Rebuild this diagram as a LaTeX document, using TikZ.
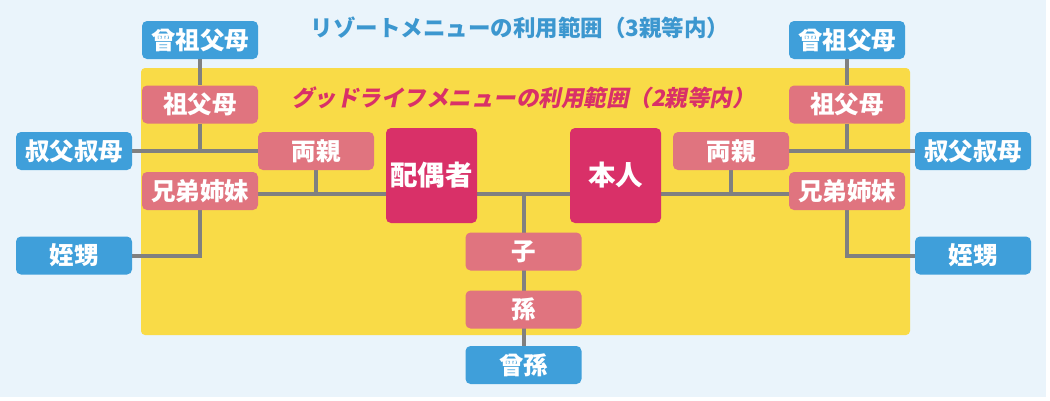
\documentclass[tikz,border=0pt]{standalone}
\usepackage{fontspec}
\setmainfont{Noto Sans CJK JP}
\newfontfamily\jpslant{Noto Sans CJK JP}[FakeSlant=0.2]
\usetikzlibrary{backgrounds}
\definecolor{pagebg}{HTML}{EAF4FB}
\definecolor{rangeyellow}{HTML}{F9DB47}
\definecolor{farblue}{HTML}{3F9FDA}
\definecolor{nearpink}{HTML}{E0747F}
\definecolor{corered}{HTML}{D93068}
\definecolor{linkgray}{HTML}{808080}

\begin{document}
\begin{tikzpicture}[x=1pt,y=-1pt,
 box/.style={rounded corners=5pt,text=white,inner sep=0pt,
  minimum width=116pt,minimum height=38pt,
  font=\bfseries\fontsize{24.5}{28}\selectfont},
 far/.style={box,fill=farblue},
 near/.style={box,fill=nearpink},
 core/.style={box,fill=corered,minimum width=91pt,minimum height=95pt,
  font=\bfseries\fontsize{27.5}{30}\selectfont},
 link/.style={draw=linkgray,line width=4pt}]
\useasboundingbox (0,0) rectangle (1050,400);

\node[far]  (gg_l) at (200,40)    {曾祖父母};
\node[near] (g_l)  at (200,104.5) {祖父母};
\node[far]  (u_l)  at (74,151)    {叔父叔母};
\node[near] (p_l)  at (316,151)   {両親};
\node[near] (s_l)  at (200,191)   {兄弟姉妹};
\node[far]  (n_l)  at (74,255.5)  {姪甥};

\node[far]  (gg_r) at (847,40)    {曾祖父母};
\node[near] (g_r)  at (847,104.5) {祖父母};
\node[far]  (u_r)  at (973,151)   {叔父叔母};
\node[near] (p_r)  at (731,151)   {両親};
\node[near] (s_r)  at (847,191)   {兄弟姉妹};
\node[far]  (n_r)  at (973,255.5) {姪甥};

\node[core] (spouse) at (431.5,175.5) {配偶者};
\node[core] (self)   at (615.5,175.5) {本人};
\node[near] (child)  at (523.5,251.5) {子};
\node[near] (grand)  at (523.5,309.5) {孫};
\node[far]  (ggrand) at (523.5,365)   {曾孫};
\coordinate (couple) at (523.5,194);

\node[text=farblue!95!black,font=\bfseries\fontsize{22.5}{26}\selectfont] (resort) at (520,28)
 {リゾートメニューの利用範囲（3親等内）};
\node[text=corered,font=\jpslant\bfseries\fontsize{22.5}{26}\selectfont] (goodlife) at (523,97.5)
 {グッドライフメニューの利用範囲（2親等内）};

\begin{scope}[on background layer]
\fill[white] (0,0) rectangle (1050,400);
\fill[pagebg] (0,0) rectangle (1046,397);
\fill[rangeyellow,rounded corners=4pt] (141,68) rectangle (910,335);
\draw[link] (gg_l) -- (g_l);
\draw[link] (g_l.south) -- (g_l.south |- u_l.east);
\draw[link] (u_l.east) -- (p_l.west);
\draw[link] (n_l.east) -| (s_l.south);
\draw[link] (gg_r) -- (g_r);
\draw[link] (g_r.south) -- (g_r.south |- u_r.west);
\draw[link] (u_r.west) -- (p_r.east);
\draw[link] (n_r.west) -| (s_r.south);
\draw[link] (s_l.east |- couple) -- (s_r.west |- couple);
\draw[link] (p_l.south) -- (p_l.south |- couple);
\draw[link] (p_r.south) -- (p_r.south |- couple);
\draw[link] (couple) -- (ggrand.north);
\end{scope}
\end{tikzpicture}
\end{document}
